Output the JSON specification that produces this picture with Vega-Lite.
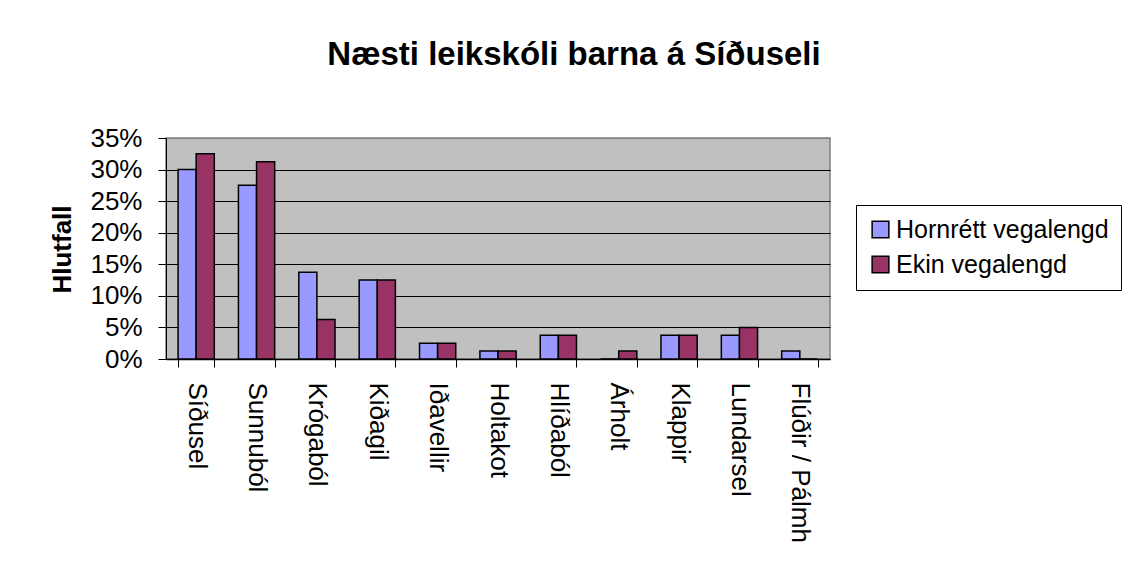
{
  "$schema": "https://vega.github.io/schema/vega-lite/v6.json",
  "width": 664,
  "height": 221,
  "autosize": {"type": "none"},
  "padding": {"left": 166, "top": 138, "right": 301, "bottom": 218},
  "background": "white",
  "title": {
    "text": "Næsti leikskóli barna á Síðuseli",
    "font": "Liberation Sans",
    "fontSize": 33,
    "fontWeight": "bold",
    "color": "black",
    "anchor": "middle",
    "dx": 76,
    "baseline": "alphabetic",
    "offset": 27
  },
  "data": {
    "values": [
      {"skoli": "Síðusel", "tegund": "Hornrétt vegalengd", "hlutfall": 0.3},
      {"skoli": "Síðusel", "tegund": "Ekin vegalengd", "hlutfall": 0.325},
      {"skoli": "Sunnuból", "tegund": "Hornrétt vegalengd", "hlutfall": 0.275},
      {"skoli": "Sunnuból", "tegund": "Ekin vegalengd", "hlutfall": 0.3125},
      {"skoli": "Krógaból", "tegund": "Hornrétt vegalengd", "hlutfall": 0.1375},
      {"skoli": "Krógaból", "tegund": "Ekin vegalengd", "hlutfall": 0.0625},
      {"skoli": "Kiðagil", "tegund": "Hornrétt vegalengd", "hlutfall": 0.125},
      {"skoli": "Kiðagil", "tegund": "Ekin vegalengd", "hlutfall": 0.125},
      {"skoli": "Iðavellir", "tegund": "Hornrétt vegalengd", "hlutfall": 0.025},
      {"skoli": "Iðavellir", "tegund": "Ekin vegalengd", "hlutfall": 0.025},
      {"skoli": "Holtakot", "tegund": "Hornrétt vegalengd", "hlutfall": 0.0125},
      {"skoli": "Holtakot", "tegund": "Ekin vegalengd", "hlutfall": 0.0125},
      {"skoli": "Hlíðaból", "tegund": "Hornrétt vegalengd", "hlutfall": 0.0375},
      {"skoli": "Hlíðaból", "tegund": "Ekin vegalengd", "hlutfall": 0.0375},
      {"skoli": "Árholt", "tegund": "Hornrétt vegalengd", "hlutfall": 0},
      {"skoli": "Árholt", "tegund": "Ekin vegalengd", "hlutfall": 0.0125},
      {"skoli": "Klappir", "tegund": "Hornrétt vegalengd", "hlutfall": 0.0375},
      {"skoli": "Klappir", "tegund": "Ekin vegalengd", "hlutfall": 0.0375},
      {"skoli": "Lundarsel", "tegund": "Hornrétt vegalengd", "hlutfall": 0.0375},
      {"skoli": "Lundarsel", "tegund": "Ekin vegalengd", "hlutfall": 0.05},
      {"skoli": "Flúðir / Pálmh", "tegund": "Hornrétt vegalengd", "hlutfall": 0.0125},
      {"skoli": "Flúðir / Pálmh", "tegund": "Ekin vegalengd", "hlutfall": 0}
    ]
  },
  "mark": {"type": "bar", "stroke": "black", "strokeWidth": 1.5},
  "encoding": {
    "x": {
      "field": "skoli",
      "type": "nominal",
      "sort": null,
      "scale": {"paddingInner": 0.4, "paddingOuter": 0.2},
      "axis": {
        "title": null,
        "labelAngle": 90,
        "labelAlign": "left",
        "labelBaseline": "middle",
        "labelFont": "Liberation Sans",
        "labelFontSize": 26,
        "labelColor": "black",
        "labelPadding": 15,
        "labelLimit": 300,
        "tickBand": "extent",
        "tickSize": 8,
        "tickColor": "black",
        "domainColor": "black",
        "domainWidth": 1.5,
        "grid": false
      }
    },
    "xOffset": {
      "field": "tegund",
      "type": "nominal",
      "scale": {"domain": ["Hornrétt vegalengd", "Ekin vegalengd"], "paddingInner": 0, "paddingOuter": 0}
    },
    "y": {
      "field": "hlutfall",
      "type": "quantitative",
      "scale": {"domain": [0, 0.35], "nice": false},
      "axis": {
        "title": "Hlutfall",
        "titleFont": "Liberation Sans",
        "titleFontSize": 26,
        "titleFontWeight": "bold",
        "titleColor": "black",
        "titleAngle": -90,
        "titleAlign": "center",
        "titleBaseline": "alphabetic",
        "titleX": -96,
        "titleY": 111,
        "values": [0, 0.05, 0.1, 0.15, 0.2, 0.25, 0.3, 0.35],
        "format": ".0%",
        "labelFont": "Liberation Sans",
        "labelFontSize": 26,
        "labelColor": "black",
        "labelPadding": 16,
        "tickSize": 8,
        "tickColor": "black",
        "domainColor": "black",
        "grid": true,
        "gridColor": {"condition": {"test": "datum.value >= 0.35", "value": "#808080"}, "value": "black"},
        "gridWidth": 1
      }
    },
    "color": {
      "field": "tegund",
      "type": "nominal",
      "scale": {"domain": ["Hornrétt vegalengd", "Ekin vegalengd"], "range": ["#9999FF", "#993366"]},
      "legend": {
        "title": null,
        "orient": "none",
        "legendX": 690,
        "legendY": 67,
        "direction": "vertical",
        "symbolType": "square",
        "symbolSize": 280,
        "symbolStrokeColor": "black",
        "symbolStrokeWidth": 1.5,
        "symbolOpacity": 1,
        "labelFont": "Liberation Sans",
        "labelFontSize": 25,
        "labelColor": "black",
        "labelOffset": 3,
        "labelLimit": 400,
        "rowPadding": 9,
        "padding": 12,
        "fillColor": "white",
        "strokeColor": "black"
      }
    }
  },
  "config": {
    "view": {"fill": "#C0C0C0", "stroke": "#808080", "strokeWidth": 1.5}
  }
}
